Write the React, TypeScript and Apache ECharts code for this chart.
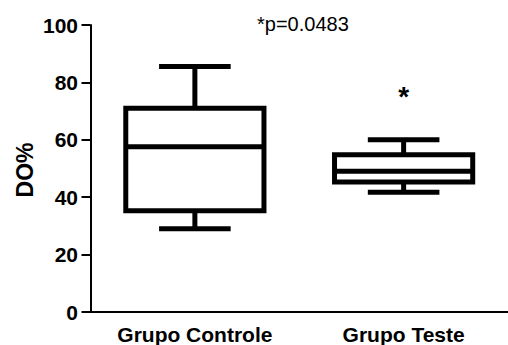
import React, { useEffect, useRef } from "react";
import * as echarts from "echarts";

const categories = ["Grupo Controle", "Grupo Teste"];
const whiskerLow = [29, 41.7];
const quartile1 = [35.3, 45.3];
const medians = [57.6, 49];
const quartile3 = [71, 54.8];
const whiskerHigh = [85.5, 60];
const significanceValue = [76];
const significanceCategory = [1];
const yTicks = [0, 20, 40, 60, 80, 100];
const pValueText = "*p=0.0483";
const yAxisTitle = "DO%";

const FONT = "'Liberation Sans', Arial, Helvetica, sans-serif";

export default function App() {
  const ref = useRef<HTMLDivElement>(null);
  useEffect(() => {
    if (!ref.current) return;
    const chart = echarts.init(ref.current, null, { renderer: "svg" });
    const boxData = categories.map((_, i) => [
      i,
      whiskerLow[i],
      quartile1[i],
      medians[i],
      quartile3[i],
      whiskerHigh[i],
    ]);
    const starData = significanceCategory.map((c, i) => [c, significanceValue[i]]);
    const lw = 5;
    const option: any = {
      animation: false,
      backgroundColor: "#fff",
      grid: { left: 90.5, right: -8.5, top: 25, bottom: 33, containLabel: false },
      xAxis: {
        type: "category",
        data: categories,
        boundaryGap: true,
        axisLine: { lineStyle: { color: "#000", width: 2 } },
        axisTick: { alignWithLabel: true, length: 8, lineStyle: { color: "#000", width: 2 } },
        axisLabel: {
          margin: 12,
          color: "#000",
          fontFamily: FONT,
          fontWeight: "bold",
          fontSize: 21,
        },
        splitLine: { show: false },
      },
      yAxis: {
        type: "value",
        min: yTicks[0],
        max: yTicks[yTicks.length - 1],
        interval: yTicks[1] - yTicks[0],
        axisLine: { show: true, lineStyle: { color: "#000", width: 2 } },
        axisTick: { show: true, length: 9, lineStyle: { color: "#000", width: 2 } },
        axisLabel: {
          margin: 12.5,
          color: "#000",
          fontFamily: FONT,
          fontWeight: "bold",
          fontSize: 21,
        },
        splitLine: { show: false },
      },
      graphic: [
        {
          type: "text",
          x: 25,
          y: 170,
          rotation: Math.PI / 2,
          style: {
            text: yAxisTitle,
            fill: "#000",
            font: `bold 23px ${FONT}`,
            textAlign: "center",
            textVerticalAlign: "middle",
          },
        },
        {
          type: "text",
          x: 257,
          y: 23.5,
          style: {
            text: pValueText,
            fill: "#000",
            font: `20px ${FONT}`,
            textAlign: "left",
            textVerticalAlign: "middle",
          },
        },
      ],
      series: [
        {
          type: "custom",
          data: boxData,
          encode: { x: 0, y: [1, 2, 3, 4, 5] },
          renderItem: (params: any, api: any) => {
            const i = api.value(0);
            const band = api.size([1, 0])[0];
            const boxW = band * 0.662;
            const capW = band * 0.343;
            const x = api.coord([i, 0])[0];
            const yLo = api.coord([i, api.value(1)])[1];
            const yQ1 = api.coord([i, api.value(2)])[1];
            const yMed = api.coord([i, api.value(3)])[1];
            const yQ3 = api.coord([i, api.value(4)])[1];
            const yHi = api.coord([i, api.value(5)])[1];
            const stroke = { stroke: "#000", lineWidth: lw, lineCap: "butt" };
            return {
              type: "group",
              children: [
                { type: "line", shape: { x1: x, y1: yQ3, x2: x, y2: yHi }, style: stroke },
                { type: "line", shape: { x1: x, y1: yQ1, x2: x, y2: yLo }, style: stroke },
                { type: "line", shape: { x1: x - capW / 2, y1: yHi, x2: x + capW / 2, y2: yHi }, style: stroke },
                { type: "line", shape: { x1: x - capW / 2, y1: yLo, x2: x + capW / 2, y2: yLo }, style: stroke },
                {
                  type: "rect",
                  shape: { x: x - boxW / 2, y: yQ3, width: boxW, height: yQ1 - yQ3 },
                  style: { fill: "#fff", stroke: "#000", lineWidth: lw, lineJoin: "miter" },
                },
                { type: "line", shape: { x1: x - boxW / 2, y1: yMed, x2: x + boxW / 2, y2: yMed }, style: stroke },
              ],
            };
          },
        },
        {
          type: "custom",
          data: starData,
          encode: { x: 0, y: 1 },
          renderItem: (params: any, api: any) => {
            const p = api.coord([api.value(0), api.value(1)]);
            return {
              type: "text",
              x: p[0],
              y: p[1] + 3,
              style: {
                text: "*",
                fill: "#000",
                font: `bold 28px ${FONT}`,
                textAlign: "center",
                textVerticalAlign: "middle",
              },
            };
          },
        },
      ],
    };
    chart.setOption(option);
    return () => chart.dispose();
  }, []);
  return <div ref={ref} style={{ width: 508, height: 345, position: "absolute", left: 0, top: 0 }} />;
}
